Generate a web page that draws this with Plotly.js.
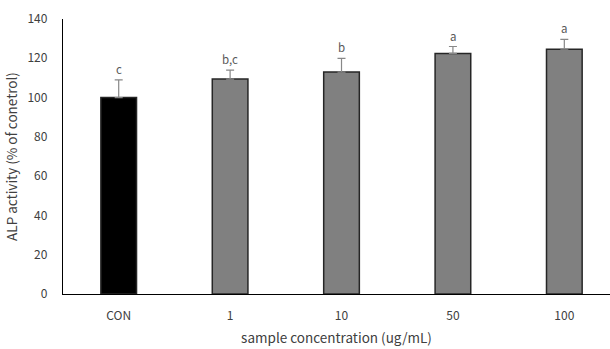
<!DOCTYPE html>
<html><head><meta charset="utf-8">
<script src="https://cdn.plot.ly/plotly-3.0.1.min.js"></script>
<style>html,body{margin:0;padding:0;background:#fff}#chart{width:610px;height:349px}</style>
</head><body><div id="chart"></div>
<script>
const categories = ["CON", "1", "10", "50", "100"];
const values = [100, 109.4, 113, 122.5, 124.6];
const errors = [9, 4.6, 7, 3.5, 5];
const letters = ["c", "b,c", "b", "a", "a"];
const yTicks = [0, 20, 40, 60, 80, 100, 120, 140];

const fnt = "'Noto Sans CJK KR', 'Noto Sans', sans-serif";
const trace = {
  type: "bar",
  x: categories.map((c, i) => i),
  y: values,
  width: 0.32,
  marker: {
    color: categories.map((c, i) => i === 0 ? "#000000" : "#808080"),
    line: {color: "#262626", width: 1.5}
  },
  error_y: {type: "data", array: errors, symmetric: false, arrayminus: errors.map(() => 0),
            color: "#888888", thickness: 1.2, width: 4},
  hoverinfo: "none"
};
const annotations = letters.map((t, i) => ({
  x: i, y: values[i] + errors[i], xref: "x", yref: "y", text: t, showarrow: false,
  yanchor: "bottom", yshift: 1, font: {family: fnt, size: 11.5, color: "#595959"}
}));
const layout = {
  width: 610, height: 349,
  margin: {l: 63, r: 0, t: 19, b: 55, pad: 0},
  paper_bgcolor: "#fff", plot_bgcolor: "#fff",
  showlegend: false,
  font: {family: fnt, size: 12, color: "#404040"},
  xaxis: {
    range: [-0.5, 4.41], tickmode: "array", tickvals: categories.map((c, i) => i), ticktext: categories,
    showline: true, linecolor: "#000", linewidth: 1.2, ticks: "", showgrid: false, zeroline: false,
    tickfont: {family: fnt, size: 12, color: "#404040"}, ticklabelstandoff: 10,
    title: {text: "sample concentration (ug/mL)", font: {family: fnt, size: 13.5, color: "#404040"}, standoff: 12}
  },
  yaxis: {
    range: [0, 140], tickmode: "array", tickvals: yTicks,
    showline: true, linecolor: "#000", linewidth: 1.2, ticks: "", showgrid: false, zeroline: false,
    tickfont: {family: fnt, size: 12, color: "#404040"}, ticklabelstandoff: 12,
    title: {text: "ALP activity (% of conetrol)", font: {family: fnt, size: 13.5, color: "#404040"}, standoff: 6}
  },
  annotations: annotations
};
Plotly.newPlot("chart", [trace], layout, {displayModeBar: false, staticPlot: true});
</script></body></html>
